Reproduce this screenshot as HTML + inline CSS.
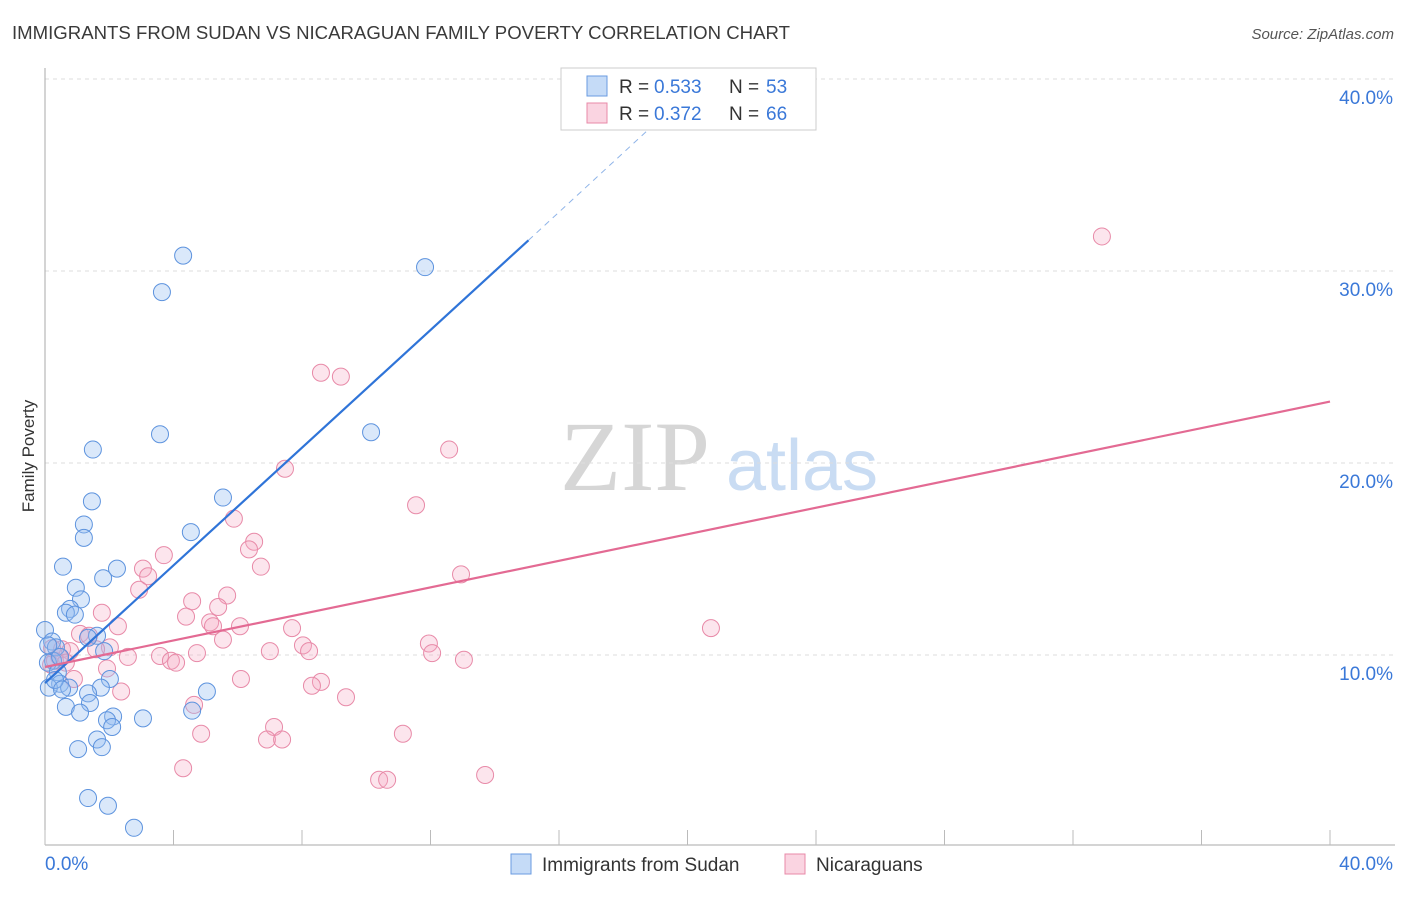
<!DOCTYPE html>
<html><head><meta charset="utf-8"><style>
body{margin:0;background:#fff;font-family:"Liberation Sans",sans-serif}
</style></head><body>
<svg id="chart" width="1406" height="892" xmlns="http://www.w3.org/2000/svg" font-family="Liberation Sans, sans-serif">
<text x="12" y="39" font-size="18.6" fill="#3a3a3a">IMMIGRANTS FROM SUDAN VS NICARAGUAN FAMILY POVERTY CORRELATION CHART</text>
<text x="1394" y="39" font-size="15" fill="#555" font-style="italic" text-anchor="end">Source: ZipAtlas.com</text>
<text transform="translate(34,456) rotate(-90)" font-size="17" fill="#333" text-anchor="middle">Family Poverty</text>
<g>
<text x="635" y="490" font-size="100" fill="#d6d6d6" style="font-family:'Liberation Serif',serif" text-anchor="middle">ZIP</text>
<text x="802" y="490" font-size="72" fill="#c9dcf3" text-anchor="middle">atlas</text>
</g>
<g id="grid"></g><g id="axes"></g><g id="pts"></g><g id="lines"></g>
<g>
<rect x="561" y="68" width="255" height="62" fill="#fff" stroke="#ccc"/>
<rect x="587" y="76" width="20" height="20" fill="rgba(150,190,240,0.55)" stroke="#6a9be0"/>
<rect x="587" y="103" width="20" height="20" fill="rgba(245,170,195,0.5)" stroke="#e88aa8"/>
<text x="619" y="93" font-size="19" fill="#333">R =</text><text x="654" y="93" font-size="19" fill="#3a78d8">0.533</text>
<text x="729" y="93" font-size="19" fill="#333">N =</text><text x="766" y="93" font-size="19" fill="#3a78d8">53</text>
<text x="619" y="120" font-size="19" fill="#333">R =</text><text x="654" y="120" font-size="19" fill="#3a78d8">0.372</text>
<text x="729" y="120" font-size="19" fill="#333">N =</text><text x="766" y="120" font-size="19" fill="#3a78d8">66</text>
</g>
<g>
<rect x="511" y="854" width="20" height="20" fill="rgba(150,190,240,0.55)" stroke="#6a9be0"/>
<text x="542" y="871" font-size="19" fill="#333">Immigrants from Sudan</text>
<rect x="785" y="854" width="20" height="20" fill="rgba(245,170,195,0.5)" stroke="#e88aa8"/>
<text x="816" y="871" font-size="19" fill="#333">Nicaraguans</text>
</g>
</svg>
<script>
const yTicks=[10,20,30,40];
const xTickLabels=["0.0%","40.0%"];
const sudanX=[4.30,3.64,11.83,3.58,10.15,1.49,5.54,1.46,1.21,1.21,4.54,0.56,2.24,1.81,0.96,1.12,0.78,0.65,0.93,0,0.22,1.62,1.34,0.34,1.84,0.25,0.09,0.40,2.02,0.47,0.12,0.75,1.74,5.04,1.34,1.40,0.65,1.09,4.58,2.12,1.93,2.09,3.05,1.62,1.03,1.77,1.34,1.96,2.77,0.31,0.47,0.53,0.1];
const sudanY=[30.8,28.9,30.2,21.5,21.6,20.7,18.2,18.0,16.8,16.1,16.4,14.6,14.5,14.0,13.5,12.9,12.4,12.2,12.1,11.3,10.7,11.0,10.9,10.4,10.2,9.7,9.6,9.1,8.75,8.5,8.3,8.3,8.3,8.1,8.0,7.5,7.3,7.0,7.1,6.8,6.6,6.25,6.7,5.6,5.1,5.2,2.55,2.15,1.0,8.7,9.9,8.2,10.5];
const nicX=[32.9,8.59,9.21,12.58,7.47,11.55,5.88,6.51,6.35,6.72,3.70,3.05,3.21,12.95,2.93,5.67,4.58,5.39,1.77,4.39,5.14,5.23,6.07,2.27,7.69,20.73,1.09,1.37,5.54,11.95,8.03,2.02,0.53,0.78,8.22,7.00,12.05,1.59,4.73,3.58,2.58,0.44,13.04,3.92,4.08,0.19,1.93,0.90,6.10,8.59,8.31,2.37,9.37,4.64,7.13,4.86,11.14,6.91,7.38,4.30,13.70,10.40,10.65,0.31,0.22,0.65];
const nicY=[31.8,24.7,24.5,20.7,19.7,17.8,17.1,15.9,15.5,14.6,15.2,14.5,14.1,14.2,13.4,13.1,12.8,12.5,12.2,12.0,11.7,11.5,11.5,11.5,11.4,11.4,11.1,11.0,10.8,10.6,10.5,10.4,10.3,10.2,10.2,10.2,10.1,10.3,10.1,9.95,9.9,9.9,9.75,9.7,9.6,9.5,9.3,8.75,8.75,8.6,8.4,8.1,7.8,7.4,6.25,5.9,5.9,5.6,5.6,4.1,3.75,3.5,3.5,9.7,10.35,9.6];
const sudanTrend=[[0,8.54],[15.05,31.6]];
const sudanTrendExt=[[15.05,31.6],[19.0,37.7]];
const nicTrend=[[0,9.375],[40,23.2]];
const NS="http://www.w3.org/2000/svg";
const sx=v=>45+v*32.125, sy=v=>847-v*19.2;
function mk(t,a,p){const e=document.createElementNS(NS,t);for(const k in a)e.setAttribute(k,a[k]);p.appendChild(e);return e;}
const grid=document.getElementById('grid');
yTicks.forEach(t=>{
 const l=mk('line',{x1:45,x2:1395,y1:sy(t),y2:sy(t),stroke:'#ddd','stroke-dasharray':'4,4'},grid);
 
 
 const tx=mk('text',{x:1393,y:sy(t)+25,'font-size':19,fill:'#3a78d8','text-anchor':'end'},grid);
 tx.textContent=t.toFixed(1)+'%';
 
 
});
const ax=document.getElementById('axes');
mk('line',{x1:45,x2:45,y1:68,y2:845,stroke:'#aaa'},ax);
mk('line',{x1:45,x2:1395,y1:845,y2:845,stroke:'#aaa'},ax);
for(let i=0;i<=10;i++){mk('line',{x1:sx(i*4),x2:sx(i*4),y1:830,y2:845,stroke:'#bbb'},ax);}
const t0=mk('text',{x:45,y:870,'font-size':19,fill:'#3a78d8'},ax);t0.textContent=xTickLabels[0];


const t1=mk('text',{x:1393,y:870,'font-size':19,fill:'#3a78d8','text-anchor':'end'},ax);t1.textContent=xTickLabels[1];


const pts=document.getElementById('pts');
nicX.forEach((x,i)=>{const c=mk('circle',{cx:sx(x),cy:sy(nicY[i]),r:8.5,fill:'rgba(245,170,195,0.3)',stroke:'#e88aa8','stroke-width':1},pts);
 
 });
sudanX.forEach((x,i)=>{const c=mk('circle',{cx:sx(x),cy:sy(sudanY[i]),r:8.5,fill:'rgba(150,190,240,0.35)',stroke:'#5d93de','stroke-width':1},pts);
 
 });
const ln=document.getElementById('lines');
const a=mk('line',{x1:sx(sudanTrend[0][0]),y1:sy(sudanTrend[0][1]),x2:sx(sudanTrend[1][0]),y2:sy(sudanTrend[1][1]),stroke:'#2f74d8','stroke-width':2.2},ln);


const b=mk('line',{x1:sx(sudanTrendExt[0][0]),y1:sy(sudanTrendExt[0][1]),x2:sx(sudanTrendExt[1][0]),y2:sy(sudanTrendExt[1][1]),stroke:'#8fb4e8','stroke-width':1,'stroke-dasharray':'6,5'},ln);


const c=mk('line',{x1:sx(nicTrend[0][0]),y1:sy(nicTrend[0][1]),x2:sx(nicTrend[1][0]),y2:sy(nicTrend[1][1]),stroke:'#e36a93','stroke-width':2.2},ln);


</script>
</body></html>
